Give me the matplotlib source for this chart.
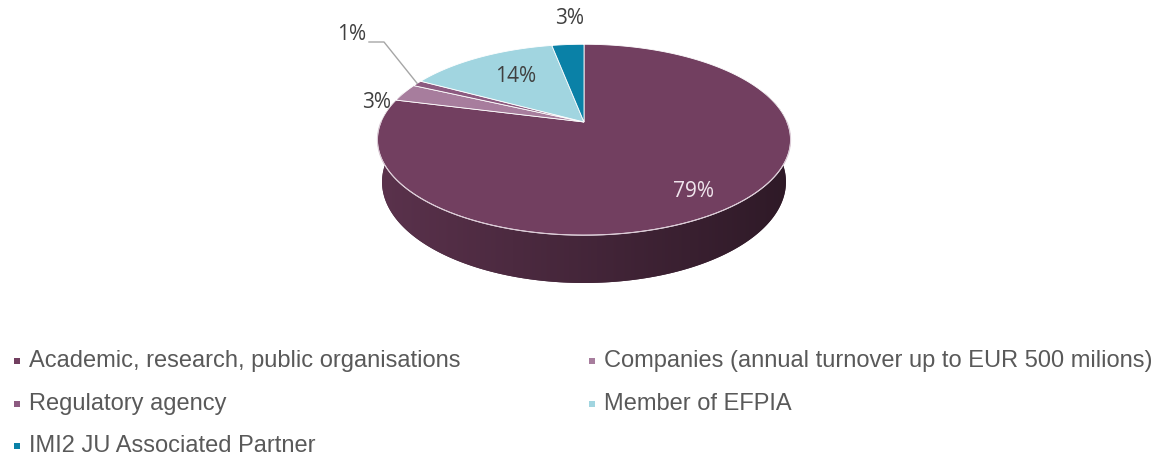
import numpy as np
import matplotlib.pyplot as plt
from matplotlib.patches import Polygon
from matplotlib.colors import to_rgb

# ---------------- data ----------------
categories = ["Academic, research, public organisations",
              "Companies (annual turnover up to EUR 500 milions)",
              "Regulatory agency",
              "Member of EFPIA",
              "IMI2 JU Associated Partner"]
values = [79, 3, 1, 14, 3]
labels = ["79%", "3%", "1%", "14%", "3%"]
colors = ["#723f60", "#a77d9d", "#8c5a80", "#a1d5e0", "#0a81a7"]

# ---------------- layout ----------------
W, H = 1169, 457
fig = plt.figure(figsize=(W / 100, H / 100), dpi=100)
ax = fig.add_axes([0, 0, 1, 1])
ax.set_xlim(0, W)
ax.set_ylim(H, 0)
ax.axis('off')

CX, CY = 584, 122          # projected pie centre (pixels)
ALPHA = np.radians(27)     # elevation
D = 4.8                    # camera distance (radius units)
K = 203 * D
THICK = 0.235


def proj(X, Y, Z=0.0):
    depth = D + Y * np.cos(ALPHA) - Z * np.sin(ALPHA)
    return CX + K * X / depth, CY - K * (Y * np.sin(ALPHA) + Z * np.cos(ALPHA)) / depth


vals = np.array(values, dtype=float)
fr = vals / vals.sum()
ends = 90 - np.cumsum(fr) * 360
starts = np.concatenate([[90], ends[:-1]])

# ---------------- side walls (front, gradient) ----------------
VIS_LO, VIS_HI = -200, 20
for i in range(len(values)):
    lo, hi = ends[i], starts[i]
    for off in (0, -360, 360):
        a0 = max(lo + off, VIS_LO)
        a1 = min(hi + off, VIS_HI)
        if a1 <= a0:
            continue
        th = np.radians(np.linspace(a0, a1, 240))
        top = [proj(np.cos(t), np.sin(t), 0) for t in th]
        bot = [proj(np.cos(t), np.sin(t), -THICK) for t in th[::-1]]
        poly = Polygon(top + bot, closed=True, facecolor='none', edgecolor='none')
        ax.add_patch(poly)
        base = np.array(to_rgb(colors[i]))
        xs_ = np.linspace(0, 1, 256)
        shade = 0.80 - 0.40 * xs_
        img = (base[None, :] * shade[:, None])[None, :, :]
        py = [p[1] for p in top + bot]
        gx0, gx1 = proj(-1, -0.25)[0], proj(1, -0.25)[0]
        im = ax.imshow(img, extent=(gx0, gx1, max(py) + 2, min(py) - 2),
                       aspect='auto', interpolation='bilinear', zorder=1)
        im.set_clip_path(poly)
        ax.add_patch(Polygon(top + bot, closed=True, facecolor=base * 0.6,
                             edgecolor='none', zorder=0.9))

# ---------------- top faces ----------------
for i in range(len(values)):
    th = np.radians(np.linspace(starts[i], ends[i], 200))
    pts = [proj(0, 0)] + [proj(np.cos(t), np.sin(t)) for t in th]
    ax.add_patch(Polygon(pts, closed=True, facecolor=colors[i],
                         edgecolor='#ffffff', lw=0.6, zorder=2))

# front rim highlight
th = np.radians(np.linspace(180, 360, 300))
rim = np.array([proj(np.cos(t), np.sin(t)) for t in th])
ax.plot(rim[:, 0], rim[:, 1], color='#dccbd7', lw=0.8, zorder=3)

# ---------------- data labels ----------------
lab_font = dict(family='Open Sans', fontsize=15, zorder=4)
mids = np.radians((starts + ends) / 2)
for i, r, col, dx, dy in [(0, 0.80, '#efe4ec', -3, 3), (3, 0.64, '#404040', 1, -2)]:
    x, y = proj(r * np.cos(mids[i]), r * np.sin(mids[i]))
    ax.text(x + dx, y + dy, labels[i], ha='center', va='center', color=col, **lab_font)
ax.text(377, 103, labels[1], ha='center', va='center', color='#404040', **lab_font)
ax.text(570, 18, labels[4], ha='center', va='center', color='#404040', **lab_font)
ax.text(352, 35, labels[2], ha='center', va='center', color='#404040', **lab_font)
ex, ey = proj(np.cos(mids[2]), np.sin(mids[2]))
ax.plot([369, 384, ex], [42, 42, ey], color='#a6a6a6', lw=1.0, zorder=3)

# ---------------- legend ----------------
order_pos = {0: (0, 0), 1: (1, 0), 2: (0, 1), 3: (1, 1), 4: (0, 2)}
col_x = [17, 592]
row_y = [361, 404, 446]
for i, name in enumerate(categories):
    c, r = order_pos[i]
    ax.scatter([col_x[c]], [row_y[r]], marker='s', s=16, color=colors[i], lw=0)
    ax.text(col_x[c] + 12, row_y[r], name, ha='left', va='center',
            family='Liberation Sans', fontsize=17, color='#595959')

fig.savefig('out.png', dpi=100)
